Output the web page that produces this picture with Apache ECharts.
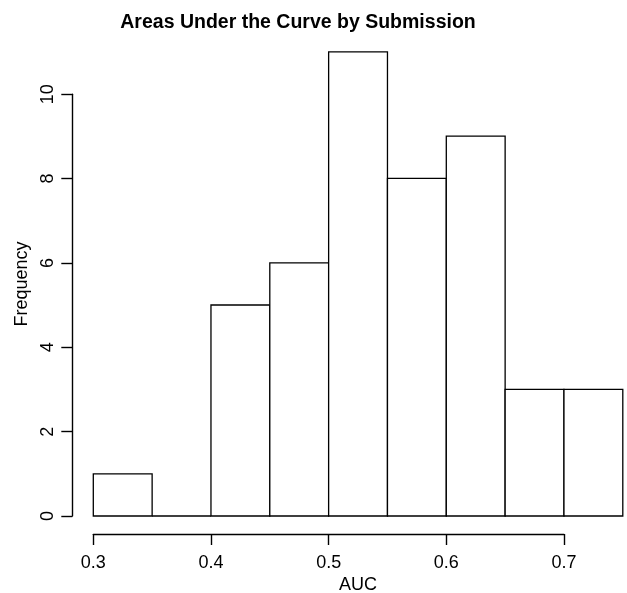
<!DOCTYPE html>
<html>
<head>
<meta charset="utf-8">
<script src="https://cdn.jsdelivr.net/npm/echarts@6/dist/echarts.min.js"></script>
<style>
html,body{margin:0;padding:0;background:#fff;}
#chart{width:627px;height:593px;}
</style>
</head>
<body>
<div id="chart"></div>
<script>
// Histogram bins (AUC) and counts
const binStarts = [0.30, 0.35, 0.40, 0.45, 0.50, 0.55, 0.60, 0.65, 0.70];
const binEnds   = [0.35, 0.40, 0.45, 0.50, 0.55, 0.60, 0.65, 0.70, 0.75];
const counts    = [1, 0, 5, 6, 11, 8, 9, 3, 3];
const xTicks = [0.3, 0.4, 0.5, 0.6, 0.7];
const yTicks = [0, 2, 4, 6, 8, 10];
const titleText = 'Areas Under the Curve by Submission';
const xName = 'AUC';
const yName = 'Frequency';

const FONT = "'Liberation Sans', Arial, Helvetica, sans-serif";
const data = binStarts.map((s, i) => [s, binEnds[i], counts[i]]);

const chart = echarts.init(document.getElementById('chart'));
const axisLineStyle = {color: '#000', width: 1.4};
chart.setOption({
  backgroundColor: '#fff',
  animation: false,
  graphic: [{
    type: 'text', x: 298, y: 22.5,
    style: {text: titleText, font: 'bold 19.5px ' + FONT, fill: '#000', textAlign: 'center', textVerticalAlign: 'middle'}
  }],
  grid: [
    {left: 93.3, right: 4.2, top: 51.8, bottom: 77, outerBoundsMode: 'none'},
    {left: 93.3, width: 470.7, top: 51.8, bottom: 77, outerBoundsMode: 'none'},
    {left: 93.3, right: 4.2, top: 94.2, bottom: 77, outerBoundsMode: 'none'}
  ],
  xAxis: [
    {gridIndex: 0, type: 'value', min: 0.3, max: 0.75,
     axisLine: {show: false}, axisTick: {show: false}, axisLabel: {show: false}, splitLine: {show: false},
     name: xName, nameLocation: 'middle', nameGap: 60,
     nameTextStyle: {fontFamily: FONT, fontSize: 18, color: '#000'}},
    {gridIndex: 1, type: 'value', min: xTicks[0], max: xTicks[xTicks.length - 1], interval: 0.1, offset: 18,
     axisLine: {show: true, onZero: false, lineStyle: axisLineStyle},
     axisTick: {show: true, inside: false, length: 11, lineStyle: axisLineStyle},
     axisLabel: {show: true, fontFamily: FONT, fontSize: 18, color: '#000', margin: 20,
                 formatter: v => v.toFixed(1)},
     splitLine: {show: false}},
    {gridIndex: 2, type: 'value', show: false, min: 0.3, max: 0.75}
  ],
  yAxis: [
    {gridIndex: 0, type: 'value', min: 0, max: 11,
     axisLine: {show: false}, axisTick: {show: false}, axisLabel: {show: false}, splitLine: {show: false},
     name: yName, nameLocation: 'middle', nameGap: 62,
     nameTextStyle: {fontFamily: FONT, fontSize: 18, color: '#000'}},
    {gridIndex: 1, type: 'value', show: false, min: 0, max: 11},
    {gridIndex: 2, type: 'value', min: yTicks[0], max: yTicks[yTicks.length - 1], interval: 2, offset: 21,
     axisLine: {show: true, onZero: false, lineStyle: axisLineStyle},
     axisTick: {show: true, inside: false, length: 11, lineStyle: axisLineStyle},
     axisLabel: {show: true, rotate: 90, fontFamily: FONT, fontSize: 18, color: '#000', margin: 15},
     splitLine: {show: false}}
  ],
  series: [{
    type: 'custom',
    xAxisIndex: 0, yAxisIndex: 0,
    encode: {x: [0, 1], y: 2},
    data: data,
    renderItem: function (params, api) {
      const p0 = api.coord([api.value(0), api.value(2)]);
      const p1 = api.coord([api.value(1), 0]);
      return {
        type: 'rect',
        shape: {x: p0[0], y: p0[1], width: p1[0] - p0[0], height: p1[1] - p0[1]},
        style: {fill: '#fff', stroke: '#000', lineWidth: 1.3}
      };
    }
  }]
});
</script>
</body>
</html>
